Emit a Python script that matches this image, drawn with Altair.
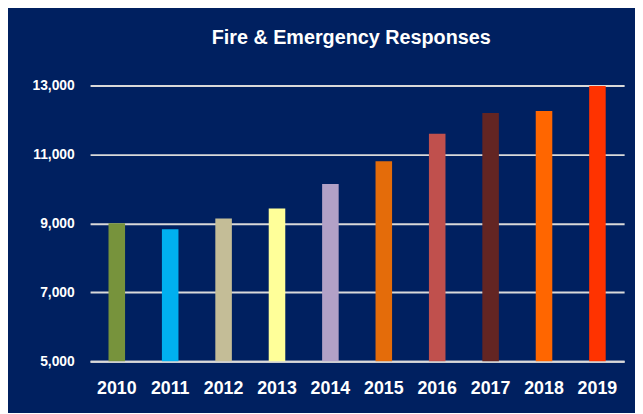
import altair as alt
import pandas as pd

years = ["2010", "2011", "2012", "2013", "2014", "2015", "2016", "2017", "2018", "2019"]
responses = [9000, 8830, 9140, 9430, 10140, 10800, 11600, 12200, 12260, 12980]
colors = ["#77933C", "#00B0F0", "#C4BD97", "#FFFF99", "#B2A1C7",
          "#E46C0A", "#C0504D", "#632523", "#FF6600", "#FF3300"]

df = pd.DataFrame({"year": years, "value": responses})

FONT = "Liberation Sans, Arial, sans-serif"
NAVY = "#002060"

chart = alt.Chart(df).mark_bar(clip=True).encode(
    x=alt.X("year:N", sort=years,
            scale=alt.Scale(paddingInner=0.69, paddingOuter=0.345),
            axis=alt.Axis(title=None, labelAngle=0, labelColor="white",
                          labelFont=FONT, labelFontSize=18, labelFontWeight="bold",
                          labelPadding=19, ticks=False, domain=True,
                          domainColor="#D9D9D9", domainWidth=2, grid=False)),
    y=alt.Y("value:Q",
            scale=alt.Scale(domain=[5000, 13000], nice=False, zero=False),
            axis=alt.Axis(title=None, values=[5000, 7000, 9000, 11000, 13000],
                          format=",.0f", labelColor="white", labelFont=FONT,
                          labelFontSize=14, labelFontWeight="bold",
                          labelPadding=16, ticks=False, domain=False,
                          grid=True, gridColor="#D9D9D9", gridWidth=2)),
    color=alt.Color("year:N", sort=years,
                    scale=alt.Scale(domain=years, range=colors), legend=None),
).properties(
    width=540,
    height=279,
    background=NAVY,
    padding={"left": 83, "top": 76, "right": 11, "bottom": 50},
    autosize=alt.AutoSizeParams(type="none"),
    title=alt.TitleParams("Fire & Emergency Responses", color="white", font=FONT,
                          fontSize=20, fontWeight="bold", anchor="middle",
                          offset=31, dx=-6),
).configure_view(stroke=None)

chart.save("out.html", embed_options={"renderer": "svg", "actions": False})
